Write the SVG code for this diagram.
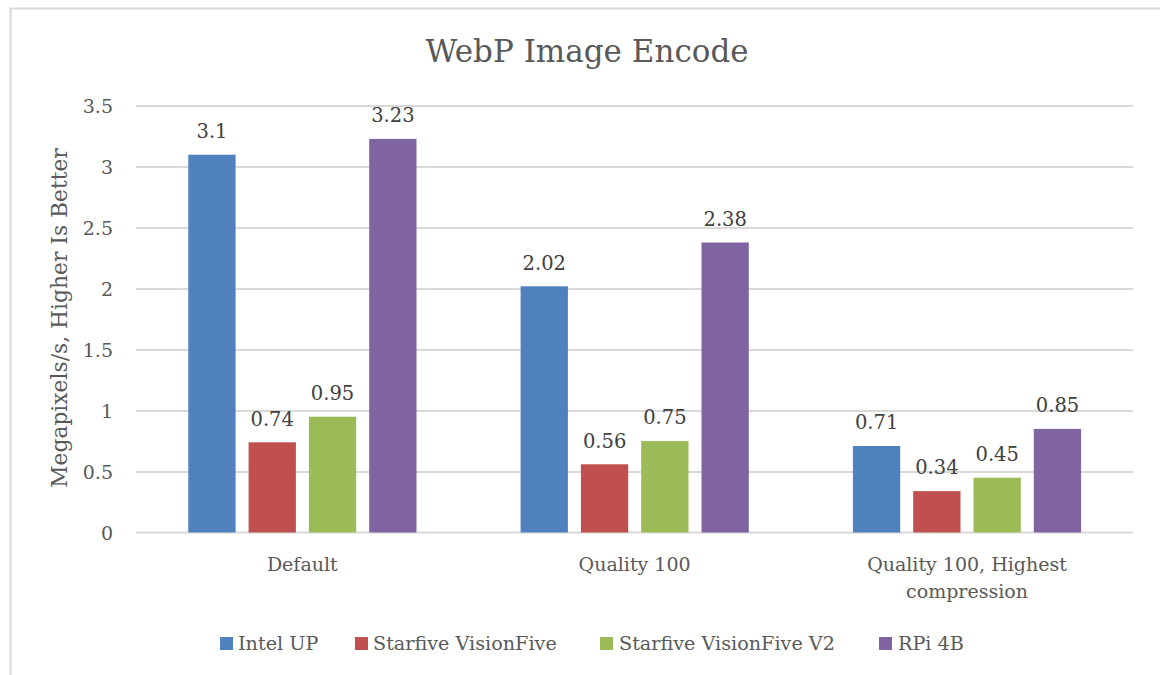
<svg xmlns="http://www.w3.org/2000/svg" width="1160" height="675" viewBox="0 0 1160 675">
<style>
text{font-family:"DejaVu Serif","Liberation Serif",serif}
.title{font-size:31px;fill:#595959;text-anchor:middle}
.tick{font-size:19px;fill:#595959;text-anchor:end}
.cat{font-size:19px;fill:#595959;text-anchor:middle}
.val{font-size:19.5px;fill:#404040;text-anchor:middle}
.leg{font-size:19.2px;fill:#595959}
.axt{font-size:21.8px;fill:#595959;text-anchor:middle}
.grid{stroke:#D9D9D9;stroke-width:2}
.b1{fill:#4F81BD}.b2{fill:#C0504D}.b3{fill:#9BBB59}.b4{fill:#8064A2}
</style>
<rect x="0" y="0" width="1160" height="675" fill="#fff"/>
<path d="M10.5,675 V8.5 H1160" fill="none" stroke="#D9D9D9" stroke-width="2"/>
<text class="title" x="587" y="62">WebP Image Encode</text>
<g id="grid">
<line class="grid" x1="136" y1="106" x2="1133" y2="106"/>
<line class="grid" x1="136" y1="167" x2="1133" y2="167"/>
<line class="grid" x1="136" y1="228" x2="1133" y2="228"/>
<line class="grid" x1="136" y1="289" x2="1133" y2="289"/>
<line class="grid" x1="136" y1="350" x2="1133" y2="350"/>
<line class="grid" x1="136" y1="411" x2="1133" y2="411"/>
<line class="grid" x1="136" y1="472" x2="1133" y2="472"/>
<line class="grid" x1="136" y1="532.5" x2="1133" y2="532.5"/>
</g>
<g id="yticks">
<text class="tick" x="113" y="113">3.5</text>
<text class="tick" x="113" y="174">3</text>
<text class="tick" x="113" y="235">2.5</text>
<text class="tick" x="113" y="296">2</text>
<text class="tick" x="113" y="357">1.5</text>
<text class="tick" x="113" y="418">1</text>
<text class="tick" x="113" y="479">0.5</text>
<text class="tick" x="113" y="540">0</text>
</g>
<text class="axt" transform="translate(67,318) rotate(-90)">Megapixels/s, Higher Is Better</text>
<g id="group-default">
<rect class="b1" x="188.3" y="154.7" width="47.3" height="377.8"/>
<rect class="b2" x="248.6" y="442.3" width="47.3" height="90.2"/>
<rect class="b3" x="308.9" y="416.7" width="47.3" height="115.8"/>
<rect class="b4" x="369.2" y="138.9" width="47.3" height="393.6"/>
<text class="val" x="212" y="138">3.1</text>
<text class="val" x="272.2" y="425.5">0.74</text>
<text class="val" x="332.5" y="400">0.95</text>
<text class="val" x="392.9" y="122">3.23</text>
<text class="cat" x="302.3" y="571">Default</text>
</g>
<g id="group-q100">
<rect class="b1" x="520.6" y="286.3" width="47.3" height="246.2"/>
<rect class="b2" x="580.9" y="464.3" width="47.3" height="68.2"/>
<rect class="b3" x="641.2" y="441.1" width="47.3" height="91.4"/>
<rect class="b4" x="701.5" y="242.5" width="47.3" height="290"/>
<text class="val" x="544.3" y="269.5">2.02</text>
<text class="val" x="604.6" y="447.5">0.56</text>
<text class="val" x="664.9" y="424.3">0.75</text>
<text class="val" x="725.2" y="225.7">2.38</text>
<text class="cat" x="634.6" y="571">Quality 100</text>
</g>
<g id="group-q100-high">
<rect class="b1" x="852.9" y="446" width="47.3" height="86.5"/>
<rect class="b2" x="913.2" y="491.1" width="47.3" height="41.4"/>
<rect class="b3" x="973.5" y="477.7" width="47.3" height="54.8"/>
<rect class="b4" x="1033.8" y="428.9" width="47.3" height="103.6"/>
<text class="val" x="876.6" y="429.2">0.71</text>
<text class="val" x="936.9" y="474.3">0.34</text>
<text class="val" x="997.2" y="460.9">0.45</text>
<text class="val" x="1057.5" y="412.1">0.85</text>
<text class="cat" x="967" y="571">Quality 100, Highest</text>
<text class="cat" x="967" y="598">compression</text>
</g>
<g id="legend">
<rect class="b1" x="220" y="637" width="13" height="13"/>
<text class="leg" x="238" y="650">Intel UP</text>
<rect class="b2" x="355" y="637" width="13" height="13"/>
<text class="leg" x="373" y="650">Starfive VisionFive</text>
<rect class="b3" x="600" y="637" width="13" height="13"/>
<text class="leg" x="619" y="650">Starfive VisionFive V2</text>
<rect class="b4" x="879" y="637" width="13" height="13"/>
<text class="leg" x="898" y="650">RPi 4B</text>
</g>
</svg>
